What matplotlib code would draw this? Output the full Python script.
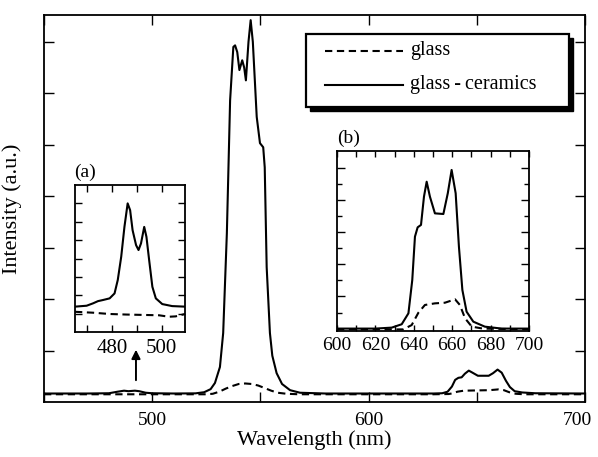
import numpy as np
import matplotlib
matplotlib.use('Agg')
import matplotlib.pyplot as plt
import matplotlib.transforms as mtransforms
from matplotlib.patches import Rectangle

plt.rcParams['font.family'] = ['Liberation Serif', 'DejaVu Serif']

# ---- main spectrum (wavelength nm, intensity a.u.) ----
gc_wl = [450, 470, 480, 484, 487, 489, 492, 494, 497, 500, 510, 520, 524, 527, 529,
         531.3, 532.8, 534.5, 536, 537.5, 538.3, 539.3, 540.3, 541.6, 542.5, 543.3,
         544.5, 545.5, 546.5, 547.5, 548.3, 549.8, 551.3, 552, 552.9, 554.4, 555.5,
         557.5, 560, 563.7, 568.3, 580, 600, 630, 634, 636.5, 638.5, 640, 641.5, 643,
         644.5, 646.3, 648, 650.5, 655.5, 657.5, 659.6, 661.5, 663.5, 665.3, 667.5,
         671, 677, 700]
gc_int = [0.165, 0.165, 0.17, 0.2, 0.22, 0.21, 0.22, 0.21, 0.18, 0.17, 0.165, 0.168, 0.19, 0.25, 0.37,
          0.68, 1.34, 3.28, 5.86, 6.9, 6.93, 6.8, 6.45, 6.64, 6.5, 6.25,
          7.0, 7.42, 7.0, 6.19, 5.54, 5.03, 4.95, 4.56, 2.62, 1.34, 0.9,
          0.56, 0.35, 0.23, 0.18, 0.165, 0.165, 0.165, 0.17, 0.2, 0.3, 0.43, 0.47, 0.48,
          0.55, 0.61, 0.57, 0.51, 0.51, 0.56, 0.63, 0.57, 0.41, 0.29, 0.21,
          0.185, 0.17, 0.165]

gl_wl = [450, 525, 528, 531, 534, 537, 540, 543, 546, 549, 552, 555, 558, 562, 568,
         630, 637, 639, 641, 644, 650, 656, 660, 662.5, 665, 668, 672, 700]
gl_int = [0.15, 0.15, 0.16, 0.2, 0.26, 0.31, 0.35, 0.36, 0.35, 0.32, 0.27, 0.22, 0.18, 0.16, 0.15,
          0.15, 0.155, 0.17, 0.2, 0.22, 0.225, 0.23, 0.245, 0.23, 0.19, 0.16, 0.15, 0.15]

# ---- inset (a): blue band ----
a_gc_wl = [465, 469.7, 472.3, 474.3, 476.3, 479, 481, 482.3, 483.7, 485, 486.3, 487.3,
           488.3, 489.7, 490.7, 491.7, 493, 493.9, 495, 496.3, 497.7, 500.3, 504.3, 509.5]
a_gc_int = [1.38, 1.43, 1.56, 1.68, 1.74, 1.83, 2.1, 2.83, 4.1, 5.72, 7.0, 6.63,
            5.54, 4.73, 4.46, 4.82, 5.72, 5.18, 3.91, 2.46, 1.83, 1.52, 1.41, 1.38]
a_gl_wl = [465, 472.3, 479, 485.7, 492.3, 499, 503, 505.7, 509.5]
a_gl_int = [1.1, 1.05, 0.98, 0.95, 0.93, 0.91, 0.83, 0.85, 0.98]

# ---- inset (b): red band ----
b_gc_wl = [600, 620, 628.5, 633.7, 637.2, 639.2, 640.6, 642, 643.75, 645.3, 646.7, 648.4,
           651, 655.4, 657.7, 659.7, 661.8, 663.5, 665.3, 667.5, 671, 677, 685.8, 700]
b_gc_int = [0.0, 0.0, 0.06, 0.27, 0.95, 3.02, 5.72, 6.3, 6.45, 8.21, 9.14, 8.21,
            7.17, 7.13, 8.42, 9.87, 8.42, 5.1, 2.4, 1.05, 0.43, 0.12, 0.0, 0.0]
b_gl_wl = [600, 634.5, 638.9, 642.4, 645.8, 651, 656.2, 661.5, 664, 666.7, 670.2, 676, 700]
b_gl_int = [-0.05, -0.05, 0.22, 0.99, 1.47, 1.57, 1.61, 1.82, 1.47, 0.64, 0.12, 0.0, -0.05]

main_xticks = [450, 500, 550, 600, 650, 700]
main_xlabels = ['', '500', '', '600', '', '700']
a_xticks = [470, 480, 490, 500]
a_xlabels = ['', '480', '', '500']
b_xticks = [600, 610, 620, 630, 640, 650, 660, 670, 680, 690, 700]
b_xlabels = ['600', '', '620', '', '640', '', '660', '', '680', '', '700']

W, H = 598, 457
fig = plt.figure(figsize=(W / 100, H / 100), dpi=100)

dash = (0, (3.5, 2.2))
lw = 1.5


def style(ax):
    for s in ax.spines.values():
        s.set_linewidth(1.3)
    ax.tick_params(which='both', direction='in', top=True, right=True, width=1.0)


# main axes
ax = fig.add_axes([44 / W, 55 / H, 541 / W, 387 / H])
ax.plot(gl_wl, gl_int, color='k', lw=lw, linestyle=dash)
ax.plot(gc_wl, gc_int, color='k', lw=lw)
ax.set_xlim(450, 700)
ax.set_ylim(0, 7.52)
ax.set_xticks(main_xticks)
ax.set_xticklabels(main_xlabels)
ax.set_yticks(range(1, 8))
ax.set_yticklabels([])
style(ax)
ax.tick_params(which='both', length=7, labelsize=14, pad=7)
# last label sits a little inside the figure edge, as in the original
last = ax.get_xticklabels()[-1]
last.set_transform(last.get_transform() + mtransforms.ScaledTranslation(-8 / 100, 0, fig.dpi_scale_trans))
ax.set_xlabel('Wavelength (nm)', fontsize=16, labelpad=1)
ax.set_ylabel('Intensity (a.u.)', fontsize=16, labelpad=9)
ax.annotate('', xy=(492.5, 1.07), xytext=(492.5, 0.37),
            arrowprops=dict(arrowstyle='-|>', color='k', lw=1.4, mutation_scale=13))

# legend drawn as a framed box with a black drop shadow
lax = fig.add_axes([306 / W, (H - 107) / H, 263 / W, 73 / H])
lax.set_xlim(0, 263)
lax.set_ylim(73, 0)
lax.axis('off')
lax.add_patch(Rectangle((4, 4), 263, 73, facecolor='k', edgecolor='k', clip_on=False, zorder=1))
lax.add_patch(Rectangle((0, 0), 263, 73, facecolor='white', edgecolor='k', lw=1.6,
                        clip_on=False, zorder=2))
lax.plot([19, 97], [17, 17], color='k', lw=lw, linestyle=dash, zorder=3)
lax.plot([19, 97], [51, 51], color='k', lw=lw, zorder=3)
lax.text(104, 17, 'glass', fontsize=14.5, va='center', ha='left', zorder=3)
lax.text(104, 51, 'glass\u2009-\u2009ceramics', fontsize=14.5, va='center', ha='left', zorder=3)

# inset (a)
axa = fig.add_axes([75 / W, 125 / H, 110 / W, 147 / H])
axa.plot(a_gl_wl, a_gl_int, color='k', lw=lw, linestyle=dash)
axa.plot(a_gc_wl, a_gc_int, color='k', lw=lw)
axa.set_xlim(465, 509.5)
axa.set_ylim(0, 8)
axa.set_xticks(a_xticks)
axa.set_xticklabels(a_xlabels)
axa.set_yticks(range(1, 8))
axa.set_yticklabels([])
style(axa)
axa.tick_params(which='both', length=5, labelsize=15, pad=5)
axa.text(-0.01, 1.03, '(a)', transform=axa.transAxes, fontsize=14, ha='left', va='bottom')

# inset (b)
axb = fig.add_axes([337 / W, 126 / H, 192 / W, 180 / H])
axb.plot(b_gl_wl, b_gl_int, color='k', lw=lw, linestyle=dash)
axb.plot(b_gc_wl, b_gc_int, color='k', lw=lw)
axb.set_xlim(600, 700)
axb.set_ylim(-0.15, 11.05)
axb.set_xticks(b_xticks)
axb.set_xticklabels(b_xlabels)
axb.set_yticks([2, 4, 6, 8, 10])
axb.set_yticks([1, 3, 5, 7, 9], minor=True)
axb.set_yticklabels([])
style(axb)
axb.tick_params(which='major', length=5.5, labelsize=14, pad=4)
axb.tick_params(which='minor', length=3.5)
axb.tick_params(axis='x', which='major', length=4)
axb.text(0.0, 1.02, '(b)', transform=axb.transAxes, fontsize=14, ha='left', va='bottom')

fig.savefig('out.png', dpi=100)
